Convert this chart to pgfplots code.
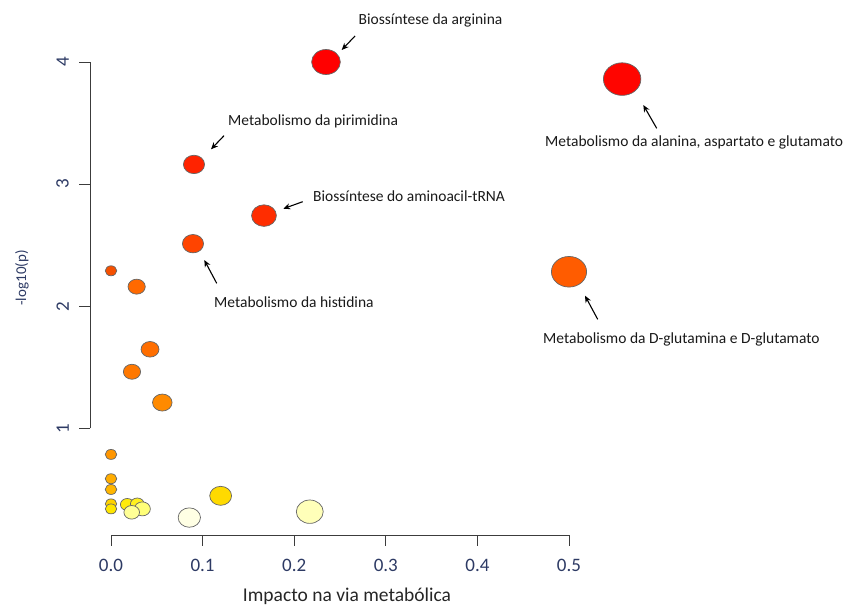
\documentclass[border=0pt]{standalone}
\usepackage{pgfplots}
\pgfplotsset{compat=1.18}
\usepackage{pgfplotstable}
\usepackage{fontspec}
\setmainfont{Carlito}
\usetikzlibrary{arrows.meta}
\definecolor{tickcol}{RGB}{45,58,100}
\definecolor{axcol}{RGB}{60,60,60}

\pgfplotstableread{
x      y      r
0      2.290  5.0
0.028  2.160  7.5
0.0426 1.647  7.8
0.0229 1.463  7.5
0.056  1.211  8.5
0      0.786  5.0
0      0.587  5.0
0      0.499  5.0
0      0.381  5.0
0      0.340  5.0
0.0178 0.376  6.0
0.0287 0.380  6.0
0.0342 0.340  7.0
0.0226 0.312  6.8
0.0855 0.269  9.7
0.1197 0.447  9.5
0.217  0.317  11.7
0.0895 2.512  9.2
0.167  2.742  10.8
0.0906 3.161  9.2
0.500  2.282  15.3
0.2347 4.000  12.5
0.558  3.860  16.3
}\pathways

\begin{document}
\begin{tikzpicture}
\useasboundingbox (-90pt,-71pt) rectangle (756pt,535pt);
\begin{axis}[
  at={(0pt,0pt)}, anchor=south west,
  scale only axis, width=756pt, height=535pt,
  xmin=-0.02293, xmax=0.80240, ymin=0.12613, ymax=4.5078,
  axis line style={draw=none},
  clip=false,
  tick align=outside, major tick length=10.7pt,
  tick style={axcol, line width=0.8pt},
  xtick pos=bottom, ytick pos=left,
  xtick={0,0.1,0.2,0.3,0.4,0.5},
  xticklabels={0.0,0.1,0.2,0.3,0.4,0.5},
  ytick={1,2,3,4}, yticklabels={1,2,3,4},
  xticklabel style={font=\fontsize{19}{22}\selectfont, text=tickcol},
  yticklabel style={font=\fontsize{19}{22}\selectfont, text=tickcol, rotate=90, anchor=south},
  xticklabel shift=10pt, yticklabel shift=7pt,
  colormap={pts}{
    rgb255(0)=(245,80,0) rgb255(1)=(255,105,0) rgb255(2)=(255,110,0) rgb255(3)=(255,120,0)
    rgb255(4)=(255,138,0) rgb255(5)=(255,150,0) rgb255(6)=(255,172,0) rgb255(7)=(255,182,0)
    rgb255(8)=(255,210,0) rgb255(9)=(255,230,0) rgb255(10)=(255,235,10) rgb255(11)=(255,240,30)
    rgb255(12)=(255,255,120) rgb255(13)=(255,255,150) rgb255(14)=(255,255,228) rgb255(15)=(255,218,0)
    rgb255(16)=(255,255,185) rgb255(17)=(255,68,0) rgb255(18)=(255,45,0) rgb255(19)=(255,35,0)
    rgb255(20)=(255,92,0) rgb255(21)=(255,0,0) rgb255(22)=(255,5,0)
  },
  point meta min=0, point meta max=22,
]
\draw[axcol, line width=0.8pt] ({axis cs:0,1}|-{rel axis cs:0,0}) -- ({axis cs:0.5,1}|-{rel axis cs:0,0});
\draw[axcol, line width=0.8pt] ({rel axis cs:0,0}|-{axis cs:0,1}) -- ({rel axis cs:0,0}|-{axis cs:0,4});
\addplot[scatter, only marks, mark=*,
  point meta=\coordindex,
  scatter/use mapped color={draw=black!60, fill=mapped color},
  visualization depends on={\thisrow{r}\as\rad},
  scatter/@pre marker code/.append style={/tikz/mark size=\rad},
  mark options={line width=0.7pt, xscale=1.15},
] table[x=x, y=y] {\pathways};
\end{axis}
% axis titles
\node[font=\fontsize{19.5}{22}\selectfont, text=black!85] at (257pt,-61pt) {Impacto na via metabólica};
\node[font=\fontsize{15}{18}\selectfont, text=tickcol, rotate=90] at (-68pt,257pt) {-log10(p)};
% annotations
\begin{scope}[every node/.style={font=\fontsize{15.5}{18}\selectfont, inner sep=0pt, anchor=base west, text=black!90}]
\node at (268.5pt,510pt) {Biossíntese da arginina};
\node at (138pt,409pt) {Metabolismo da pirimidina};
\node at (223pt,333pt) {Biossíntese do aminoacil-tRNA};
\node at (124pt,227.5pt) {Metabolismo da histidina};
\node at (455pt,388pt) {Metabolismo da alanina, aspartato e glutamato};
\node at (453pt,191.7pt) {Metabolismo da D-glutamina e D-glutamato};
\end{scope}
\begin{scope}[line width=1.1pt, -{Stealth[length=7pt,width=6pt]}]
\draw (265pt,499pt) -- (251.7pt,485pt);
\draw (134pt,399.3pt) -- (121pt,385.7pt);
\draw (212.7pt,333.3pt) -- (193.3pt,326.3pt);
\draw (126.7pt,251.7pt) -- (114.3pt,275pt);
\draw (566.7pt,406.7pt) -- (553.3pt,430pt);
\draw (507.7pt,215.7pt) -- (495pt,239.3pt);
\end{scope}
\end{tikzpicture}
\end{document}
